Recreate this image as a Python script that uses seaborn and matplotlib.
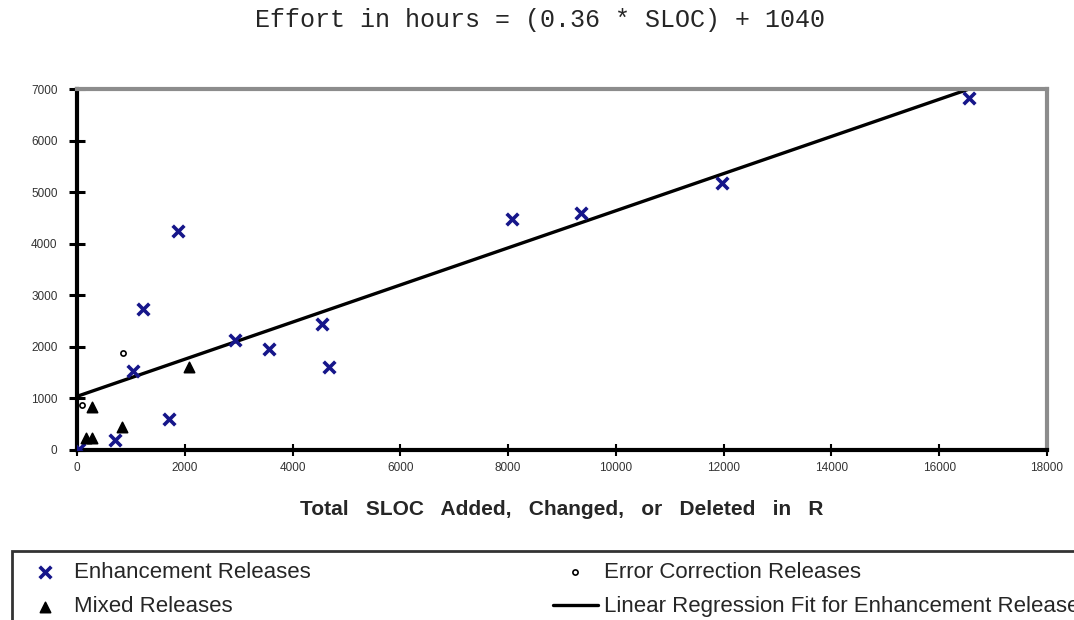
import numpy as np
import pandas as pd
import matplotlib
matplotlib.use("Agg")
import matplotlib.pyplot as plt
import seaborn as sns

# ---- data ----
enh_sloc = [37, 705, 1039, 1224, 1707, 1874, 2931, 3562, 4545, 4675, 8071, 9350, 11966, 16549]
enh_effort = [20, 190, 1532, 2734, 601, 4247, 2133, 1959, 2443, 1610, 4479, 4596, 5177, 6826]

mixed_sloc = [160, 280, 278, 835, 2078]
mixed_effort = [230, 230, 834, 440, 1609]

err_sloc = [90, 853]
err_effort = [870, 1881]

fit_slope = 0.36
fit_intercept = 1040
fit_sloc = [0, 16600]

x_ticks = [0, 2000, 4000, 6000, 8000, 10000, 12000, 14000, 16000, 18000]
y_ticks = [0, 1000, 2000, 3000, 4000, 5000, 6000, 7000]

title_text = "Effort in hours = (0.36 * SLOC) + 1040"
x_label = "Total   SLOC   Added,   Changed,   or   Deleted   in   R"
lbl_enh = "Enhancement Releases"
lbl_mixed = "Mixed Releases"
lbl_err = "Error Correction Releases"
lbl_fit = "Linear Regression Fit for Enhancement Releases"

# ---- figure ----
sns.set_style("ticks")
plt.rcParams["font.family"] = ["Liberation Sans", "DejaVu Sans"]

W, H = 1074, 620
fig = plt.figure(figsize=(W / 100, H / 100), dpi=100)
ax = fig.add_axes([77 / W, 1 - 450 / H, (1047 - 77) / W, (450 - 89) / H])

fit_df = pd.DataFrame({"x": fit_sloc})
fit_df["y"] = fit_slope * fit_df["x"] + fit_intercept

sns.lineplot(data=fit_df, x="x", y="y", ax=ax, color="black", linewidth=2.4,
             label=lbl_fit, zorder=2)
sns.scatterplot(x=enh_sloc, y=enh_effort, ax=ax, marker="x", s=70,
                color="#16168a", linewidth=2.6, label=lbl_enh, zorder=3)
sns.scatterplot(x=mixed_sloc, y=mixed_effort, ax=ax, marker="^", s=55,
                color="black", edgecolor="black", linewidth=1.2,
                label=lbl_mixed, zorder=3)
sns.scatterplot(x=err_sloc, y=err_effort, ax=ax, marker="o", s=14,
                facecolor="white", edgecolor="black", linewidth=1.2,
                label=lbl_err, zorder=3)

ax.set_xlim(0, 18000)
ax.set_ylim(0, 7000)
ax.set_xticks(x_ticks)
ax.set_yticks(y_ticks)
ax.set_xticklabels([str(v) for v in x_ticks])
ax.set_yticklabels([str(v) for v in y_ticks])
ax.tick_params(axis="both", labelsize=8.5, labelcolor="#333333", colors="black",
               bottom=True, left=True, top=False, right=False)
ax.tick_params(axis="y", direction="inout", length=12, width=2.2, pad=8)
ax.tick_params(axis="x", direction="inout", length=9, width=1.5, pad=4)

for side in ["left", "bottom"]:
    ax.spines[side].set_color("black")
    ax.spines[side].set_linewidth(3)
for side in ["top", "right"]:
    ax.spines[side].set_color("#8c8c8c")
    ax.spines[side].set_linewidth(3)
    ax.spines[side].set_visible(True)

ax.set_xlabel(x_label, fontsize=15, fontweight="bold", labelpad=19)
ax.set_ylabel("")

fig.text(540 / W, 1 - 20 / H, title_text, ha="center", va="center",
         fontsize=18, family=["Liberation Mono", "DejaVu Sans Mono"])

handles, labels = ax.get_legend_handles_labels()
ax.get_legend().remove()
hmap = dict(zip(labels, handles))
order = [lbl_enh, lbl_mixed, lbl_err, lbl_fit]
leg = fig.legend([hmap[k] for k in order], order, ncol=2,
                 loc="upper left", bbox_to_anchor=(12 / W, 1 - 551 / H),
                 bbox_transform=fig.transFigure, borderaxespad=0,
                 fontsize=16, frameon=True, fancybox=False, framealpha=1,
                 edgecolor="#333333", borderpad=0.5, labelspacing=0.6,
                 handlelength=2.0, handletextpad=0.3, columnspacing=10.9)
leg.get_frame().set_linewidth(2)

fig.savefig("out.png", dpi=100)
